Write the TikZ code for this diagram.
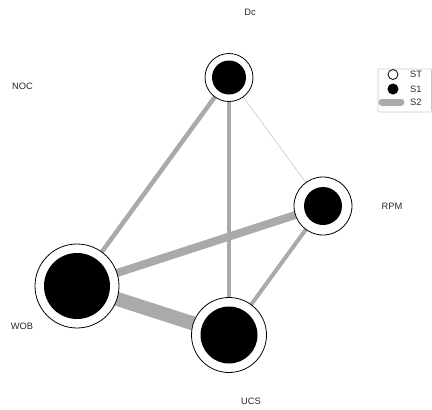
\documentclass[tikz,border=0pt]{standalone}
\usepackage{fontspec}
\setmainfont{Liberation Sans}
\definecolor{edgegray}{RGB}{170,170,170}
\definecolor{thingray}{RGB}{200,200,200}
\definecolor{boxgray}{RGB}{200,200,200}
\tikzset{
  outer/.style={circle, draw=black, line width=0.8pt, fill=white, inner sep=0pt},
  inner/.style={circle, fill=black, inner sep=0pt},
  lbl/.style={font=\fontsize{9.3}{10}\selectfont, text=black!85, inner sep=0pt},
  edge/.style={draw=edgegray, line cap=butt},
}
\begin{document}
\begin{tikzpicture}[x=1pt,y=-1pt]
\useasboundingbox (0,0) rectangle (432,410);
% centres
\coordinate (pDc) at (229,77.5);
\coordinate (pRPM) at (323,206);
\coordinate (pWOB) at (77,286);
\coordinate (pUCS) at (229,335);
% edges
\draw[edge, line width=4.5pt] (pDc) -- (pWOB);
\draw[edge, line width=4pt] (pDc) -- (pUCS);
\draw[draw=thingray, line width=0.6pt] (pDc) -- (pRPM);
\draw[edge, line width=8pt] (pWOB) -- (pRPM);
\draw[edge, line width=14pt] (pWOB) -- (pUCS);
\draw[edge, line width=4pt] (pRPM) -- (pUCS);
% nodes
\node[outer, minimum size=48pt] (Dc) at (pDc) {};
\node[inner, minimum size=34pt] (Dci) at (pDc) {};
\node[outer, minimum size=58pt] (RPM) at (pRPM) {};
\node[inner, minimum size=38pt] (RPMi) at (pRPM) {};
\node[outer, minimum size=84pt] (WOB) at (pWOB) {};
\node[inner, minimum size=66pt] (WOBi) at (pWOB) {};
\node[outer, minimum size=75pt] (UCS) at (pUCS) {};
\node[inner, minimum size=57pt] (UCSi) at (pUCS) {};
% labels
\node[lbl] (lDc) at (250,12) {Dc};
\node[lbl] (lNOC) at (22.5,86) {NOC};
\node[lbl] (lRPM) at (392,206) {RPM};
\node[lbl] (lWOB) at (22,326) {WOB};
\node[lbl] (lUCS) at (251,401) {UCS};
% legend
\draw[draw=boxgray, line width=0.6pt, rounded corners=1pt] (378,69) rectangle (431.5,112);
\node[circle, draw=black, line width=0.8pt, fill=white, minimum size=10pt, inner sep=0pt] (kST) at (393,74.5) {};
\node[circle, fill=black, minimum size=11pt, inner sep=0pt] (kS1) at (393,89) {};
\coordinate (kS2a) at (382,102);
\coordinate (kS2b) at (401,102);
\draw[draw=edgegray, line width=7pt, line cap=round] (kS2a) -- (kS2b);
\node[lbl, anchor=west] (tST) at (410,74.5) {ST};
\node[lbl, anchor=west] (tS1) at (410,89) {S1};
\node[lbl, anchor=west] (tS2) at (410,102.5) {S2};
\end{tikzpicture}
\end{document}
